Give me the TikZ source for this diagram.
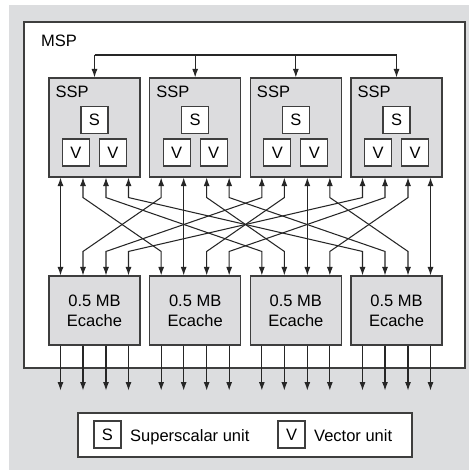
\documentclass[tikz,border=0pt]{standalone}
\usepackage{fontspec}
\setmainfont{Liberation Sans}
\usetikzlibrary{arrows.meta}

\definecolor{bggray}{RGB}{220,221,223}
\definecolor{boxgray}{RGB}{220,220,222}
\definecolor{edge}{RGB}{62,62,62}

\tikzset{
	unitbox/.style={draw=edge, line width=1.1pt, fill=white, minimum size=27pt, inner sep=0pt},
	procbox/.style={draw=edge, line width=1.1pt, fill=boxgray, minimum width=91pt, minimum height=99pt, inner sep=0pt},
	cachebox/.style={procbox, minimum height=69pt, align=center},
	tag/.style={inner sep=0pt, anchor=base west},
	link/.style={line width=1.05pt, black!85},
	onetip/.style={-{Latex[length=8.5pt,width=6pt]}},
	twotips/.style={{Latex[length=8.5pt,width=6pt]}-{Latex[length=8.5pt,width=6pt]}}
}

\begin{document}
\begin{tikzpicture}[x=1pt, y=-1pt, font=\fontsize{16.5}{20}\selectfont]
	\useasboundingbox (0,0) rectangle (469,470);
	\fill [bggray] (9,5) rectangle (469,470);
	\draw [edge, line width=1.8pt, fill=white] (24,22) rectangle (465,368);
	\node [tag] (msp) at (41,47) {MSP};

	% processors and caches
	\foreach \i in {1,...,4} {
		\pgfmathsetmacro\cx{94.5+100.67*(\i-1)}
		\node [procbox] (ssp\i) at (\cx,127.5) {};
		\node [tag] at ([xshift=7pt,yshift=-20pt]ssp\i.north west) {SSP};
		\node [unitbox] (s\i) at (\cx,120) {S};
		\node [unitbox] (va\i) at (\cx-18.5,152.5) {V};
		\node [unitbox] (vb\i) at (\cx+18.5,152.5) {V};
		\node [cachebox] (ec\i) at (\cx,310.5) {0.5 MB\\Ecache};
		\foreach \j/\dx in {1/-34,2/-11.5,3/11.5,4/34} {
			\coordinate (sp\i\j) at ([xshift=\dx pt]ssp\i.south);
			\coordinate (cp\i\j) at ([xshift=\dx pt]ec\i.north);
			\coordinate (co\i\j) at ([xshift=\dx pt]ec\i.south);
		}
	}

	% bus on top
	\coordinate (bus) at (0,55);
	\draw [link] (ssp1.north |- bus) -- (ssp4.north |- bus);
	\foreach \i in {1,...,4}
		\draw [link, onetip] (ssp\i.north |- bus) -- (ssp\i.north);

	% crossbar
	\foreach \i in {1,...,4} {
		\foreach \j in {1,...,4} {
			\ifnum\i=\j
				\draw [link, twotips] (sp\i\j) -- (cp\j\i);
			\else
				\draw [link, twotips] (sp\i\j) -- ([yshift=-20pt]sp\i\j) -- ([yshift=24pt]cp\j\i) -- (cp\j\i);
			\fi
			\draw [link, onetip] (co\i\j) -- ++(0,45);
		}
	}

	% legend
	\node [draw=edge, line width=1.1pt, fill=white, minimum width=334pt, minimum height=44pt] (legend) at (245,435) {};
	\node [unitbox] (keys) at (107.5,434.5) {S};
	\node [tag] at (130,441) {Superscalar unit};
	\node [unitbox] (keyv) at (291.5,434.5) {V};
	\node [tag] at (314,441) {Vector unit};
\end{tikzpicture}
\end{document}
